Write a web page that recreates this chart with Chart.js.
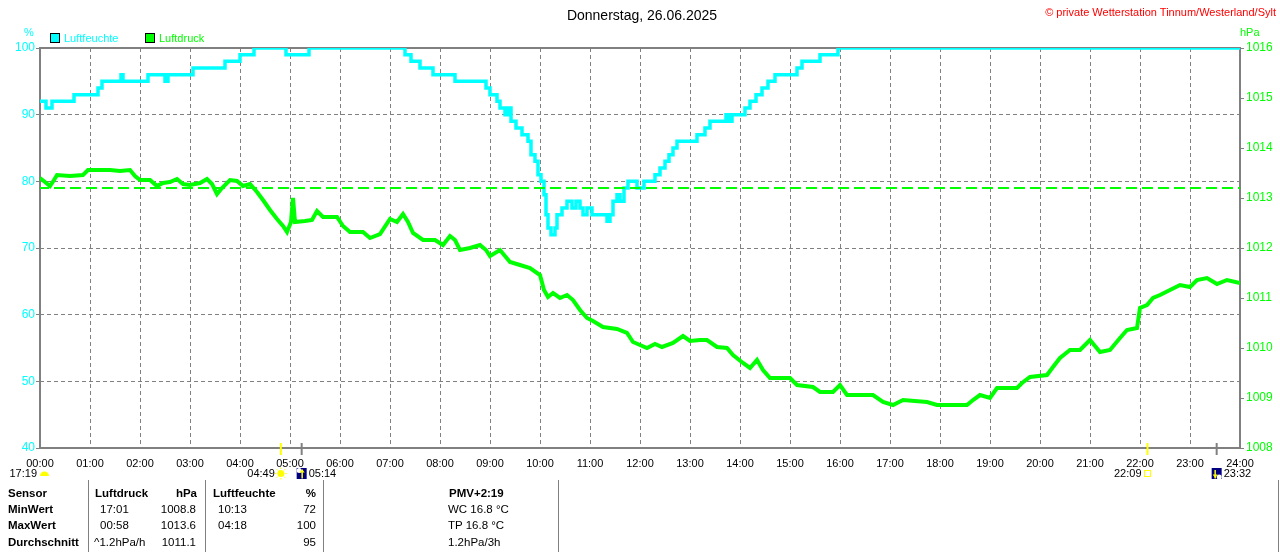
<!DOCTYPE html>
<html lang="de">
<head>
  <meta charset="UTF-8" />
  <title>Luftfeuchte / Luftdruck - Donnerstag, 26.06.2025</title>
  <script src="https://cdn.jsdelivr.net/npm/chart.js"></script>
  <style>
    body {
      margin: 0;
      background: #fff;
      font-family: "Liberation Sans", Arial, sans-serif;
    }
    #wrap {
      position: relative;
      width: 1280px;
      height: 552px;
      overflow: hidden;
    }
    #wrap canvas {
      position: absolute;
      left: 0;
      top: 0;
    }
    .t {
      position: absolute;
      white-space: nowrap;
      font-size: 11.5px;
      line-height: 14px;
      transform: translateY(-50%);
    }
    .r { transform: translate(-100%, -50%); }
    .c { transform: translate(-50%, -50%); }
    .b { font-weight: bold; }
    .sep {
      position: absolute;
      top: 480px;
      width: 1px;
      height: 72px;
      background: #808080;
    }
    .box {
      position: absolute;
      top: 33px;
      width: 8px;
      height: 8px;
      border: 1px solid #000;
    }
  </style>
</head>
<body>
<div id="wrap">
  <canvas id="chart" width="1280" height="552"></canvas>

  <!-- Kopfzeile -->
  <div class="t c" style="left:642px; top:15px; font-size:14px;">Donnerstag, 26.06.2025</div>
  <div class="t r" style="left:1276px; top:12px; font-size:11px; color:#ff0000;">&copy; private Wetterstation Tinnum/Westerland/Sylt</div>

  <!-- Legende und Einheiten -->
  <div class="t" style="left:24px; top:32px; font-size:11px; color:#00ffff;">%</div>
  <div class="t" style="left:1240px; top:32px; font-size:11px; color:#00ff00;">hPa</div>
  <div class="box" style="left:50px; background:#00ffff;"></div>
  <div class="t" style="left:64px; top:38px; font-size:11px; color:#00ffff;">Luftfeuchte</div>
  <div class="box" style="left:145px; background:#00ff00;"></div>
  <div class="t" style="left:159px; top:38px; font-size:11px; color:#00ff00;">Luftdruck</div>

  <!-- Tabelle -->
  <div class="sep" style="left:88px;"></div>
  <div class="sep" style="left:205px;"></div>
  <div class="sep" style="left:323px;"></div>
  <div class="sep" style="left:558px;"></div>
  <div class="sep" style="left:1278px;"></div>

  <div class="t b" style="left:8px; top:493px;">Sensor</div>
  <div class="t b" style="left:8px; top:509px;">MinWert</div>
  <div class="t b" style="left:8px; top:525px;">MaxWert</div>
  <div class="t b" style="left:8px; top:542px;">Durchschnitt</div>

  <div class="t b" style="left:95px; top:493px;">Luftdruck</div>
  <div class="t b r" style="left:197px; top:493px;">hPa</div>
  <div class="t" style="left:100px; top:509px;">17:01</div>
  <div class="t r" style="left:196px; top:509px;">1008.8</div>
  <div class="t" style="left:100px; top:525px;">00:58</div>
  <div class="t r" style="left:196px; top:525px;">1013.6</div>
  <div class="t" style="left:94px; top:542px;">^1.2hPa/h</div>
  <div class="t r" style="left:196px; top:542px;">1011.1</div>

  <div class="t b" style="left:213px; top:493px;">Luftfeuchte</div>
  <div class="t b r" style="left:316px; top:493px;">%</div>
  <div class="t" style="left:218px; top:509px;">10:13</div>
  <div class="t r" style="left:316px; top:509px;">72</div>
  <div class="t" style="left:218px; top:525px;">04:18</div>
  <div class="t r" style="left:316px; top:525px;">100</div>
  <div class="t r" style="left:316px; top:542px;">95</div>

  <div class="t b" style="left:449px; top:493px;">PMV+2:19</div>
  <div class="t" style="left:448px; top:509px;">WC 16.8 °C</div>
  <div class="t" style="left:448px; top:525px;">TP 16.8 °C</div>
  <div class="t" style="left:448px; top:542px;">1.2hPa/3h</div>
</div>

<script>
  // ---------------------
  // Daten (Zeit in Stunden seit 00:00)
  // ---------------------
  const hourLabels = ['00:00', '01:00', '02:00', '03:00', '04:00', '05:00', '06:00', '07:00',
    '08:00', '09:00', '10:00', '11:00', '12:00', '13:00', '14:00', '15:00', '16:00',
    '17:00', '18:00', '19:00', '20:00', '21:00', '22:00', '23:00', '24:00'];

  // Luftfeuchte in % (Wert gilt ab dem Zeitpunkt)
  const humTimes = [0, 0.12, 0.24, 0.68, 1.16, 1.24, 1.62, 1.66, 2.16, 2.5,
    2.56, 3.06, 3.7, 4.0, 4.28, 4.92, 5.38, 7.3, 7.42, 7.6,
    7.86, 8.3, 8.92, 9.0, 9.14, 9.2, 9.3, 9.36, 9.42, 9.52,
    9.64, 9.76, 9.82, 9.9, 9.96, 10.02, 10.08, 10.12, 10.16, 10.22,
    10.3, 10.34, 10.44, 10.54, 10.64, 10.72, 10.8, 10.86, 10.94, 11.04,
    11.34, 11.4, 11.46, 11.54, 11.6, 11.68, 11.76, 11.94, 12.08, 12.3,
    12.4, 12.5, 12.58, 12.66, 12.74, 13.14, 13.3, 13.4, 13.72, 13.78,
    13.84, 14.1, 14.2, 14.32, 14.44, 14.56, 14.7, 15.14, 15.24, 15.6,
    15.96, 24];
  const humValues = [92, 91, 92, 93, 94, 95, 96, 95, 96, 95,
    96, 97, 98, 99, 100, 99, 100, 99, 98, 97,
    96, 95, 94, 93, 92, 91, 90, 91, 89, 88,
    87, 86, 84, 83, 81, 80, 78, 75, 73, 72,
    73, 75, 76, 77, 76, 77, 76, 75, 76, 75,
    74, 75, 77, 78, 77, 79, 80, 79, 80, 81,
    82, 83, 84, 85, 86, 87, 88, 89, 90, 89,
    90, 91, 92, 93, 94, 95, 96, 97, 98, 99,
    100, 100];

  // Luftdruck in hPa
  const presTimes = [0, 0.1, 0.2, 0.28, 0.34, 0.6, 0.86, 0.96, 1.4, 1.6,
    1.8, 1.9, 2.0, 2.2, 2.34, 2.46, 2.6, 2.74, 2.86, 3.0,
    3.2, 3.34, 3.44, 3.54, 3.64, 3.8, 3.94, 4.06, 4.2, 4.34,
    4.46, 4.6, 4.74, 4.86, 4.94, 5.02, 5.06, 5.1, 5.3, 5.44,
    5.54, 5.66, 5.94, 6.06, 6.2, 6.46, 6.6, 6.8, 7.0, 7.14,
    7.26, 7.36, 7.46, 7.66, 7.9, 8.06, 8.2, 8.3, 8.4, 8.6,
    8.8, 8.92, 9.0, 9.2, 9.4, 9.6, 9.8, 10.0, 10.08, 10.16,
    10.26, 10.4, 10.54, 10.66, 10.8, 10.94, 11.06, 11.26, 11.54, 11.74,
    11.86, 12.0, 12.14, 12.3, 12.44, 12.66, 12.86, 13.0, 13.2, 13.34,
    13.54, 13.74, 13.86, 14.06, 14.2, 14.34, 14.46, 14.6, 15.0, 15.14,
    15.46, 15.6, 15.86, 16.0, 16.14, 16.66, 16.86, 17.06, 17.26, 17.74,
    17.94, 18.54, 18.66, 18.8, 19.0, 19.14, 19.54, 19.64, 19.8, 20.14,
    20.26, 20.4, 20.6, 20.8, 21.0, 21.2, 21.4, 21.6, 21.74, 21.94,
    22.0, 22.14, 22.26, 22.4, 22.6, 22.8, 23.0, 23.14, 23.34, 23.54,
    23.74, 24.0];
  const presValues = [1013.40, 1013.32, 1013.24, 1013.36, 1013.46, 1013.44, 1013.46, 1013.56, 1013.56, 1013.54,
    1013.56, 1013.44, 1013.36, 1013.36, 1013.24, 1013.30, 1013.32, 1013.38, 1013.28, 1013.26,
    1013.30, 1013.38, 1013.28, 1013.08, 1013.20, 1013.36, 1013.34, 1013.24, 1013.28, 1013.12,
    1012.96, 1012.76, 1012.58, 1012.44, 1012.32, 1012.52, 1013.00, 1012.52, 1012.54, 1012.56,
    1012.74, 1012.62, 1012.62, 1012.44, 1012.32, 1012.32, 1012.20, 1012.28, 1012.58, 1012.52,
    1012.68, 1012.52, 1012.30, 1012.16, 1012.16, 1012.06, 1012.24, 1012.16, 1011.96, 1012.00,
    1012.06, 1011.96, 1011.84, 1011.96, 1011.72, 1011.66, 1011.60, 1011.46, 1011.16, 1011.02,
    1011.10, 1011.00, 1011.06, 1010.96, 1010.76, 1010.60, 1010.54, 1010.42, 1010.38, 1010.30,
    1010.12, 1010.06, 1010.00, 1010.08, 1010.02, 1010.10, 1010.24, 1010.14, 1010.16, 1010.16,
    1010.02, 1010.00, 1009.86, 1009.70, 1009.60, 1009.76, 1009.56, 1009.40, 1009.40, 1009.26,
    1009.22, 1009.12, 1009.12, 1009.26, 1009.06, 1009.06, 1008.92, 1008.86, 1008.96, 1008.92,
    1008.86, 1008.86, 1008.96, 1009.06, 1009.00, 1009.20, 1009.20, 1009.30, 1009.42, 1009.46,
    1009.62, 1009.80, 1009.96, 1009.96, 1010.16, 1009.92, 1009.96, 1010.20, 1010.36, 1010.40,
    1010.80, 1010.86, 1011.00, 1011.06, 1011.16, 1011.26, 1011.22, 1011.36, 1011.40, 1011.28,
    1011.36, 1011.30];

  // gestrichelte Bezugslinie Luftdruck
  const presRef = 1013.2;

  // Sonne / Mond unter der Zeitachse
  const sunTimes = [4 + 49 / 60, 22 + 9 / 60];
  const sunLabels = ['04:49', '22:09'];
  const moonTimes = [5 + 14 / 60, 23 + 32 / 60];
  const moonLabels = ['05:14', '23:32'];
  const startLabel = '17:19';

  const CYAN = '#00ffff';
  const GREEN = '#00ff00';
  const GRID = '#808080';
  const FONT = '"Liberation Sans", Arial, sans-serif';

  function sunIcon(ctx, x, y, filled) {
    ctx.save();
    ctx.fillStyle = '#ffff00';
    ctx.strokeStyle = '#ffff00';
    ctx.lineWidth = 1;
    if (filled) {
      ctx.beginPath();
      ctx.arc(x, y, 3.5, 0, Math.PI * 2);
      ctx.fill();
      for (let k = 0; k < 8; k++) {
        const a = k * Math.PI / 4;
        ctx.beginPath();
        ctx.moveTo(x + Math.cos(a) * 4.5, y + Math.sin(a) * 4.5);
        ctx.lineTo(x + Math.cos(a) * 6, y + Math.sin(a) * 6);
        ctx.stroke();
      }
    } else {
      ctx.strokeRect(x - 3, y - 3, 6, 6);
    }
    ctx.restore();
  }

  function moonIcon(ctx, x, y, up) {
    ctx.save();
    ctx.fillStyle = '#000080';
    ctx.fillRect(x - 5, y - 5.5, 10, 11);
    ctx.fillStyle = '#ffffff';
    ctx.beginPath();
    if (up) ctx.arc(x - 2.5, y - 3, 2.5, 0, Math.PI * 2);
    else ctx.arc(x + 2.5, y + 3.5, 2.5, 0, Math.PI * 2);
    ctx.fill();
    ctx.strokeStyle = '#ffff00';
    ctx.fillStyle = '#ffff00';
    ctx.lineWidth = 1.5;
    const ax = up ? x + 0.5 : x - 1.5;
    ctx.beginPath();
    ctx.moveTo(ax, y - 3.5);
    ctx.lineTo(ax, y + 5);
    ctx.stroke();
    ctx.beginPath();
    if (up) {
      ctx.moveTo(ax - 2.5, y - 1);
      ctx.lineTo(ax, y - 4.5);
      ctx.lineTo(ax + 2.5, y - 1);
    } else {
      ctx.moveTo(ax - 2.5, y + 1);
      ctx.lineTo(ax, y + 4.5);
      ctx.lineTo(ax + 2.5, y + 1);
    }
    ctx.fill();
    ctx.restore();
  }

  const decor = {
    id: 'decor',
    beforeDatasetsDraw(chart) {
      const { ctx, chartArea: a } = chart;
      ctx.save();
      ctx.strokeStyle = GRID;
      ctx.lineWidth = 2;
      ctx.strokeRect(a.left, a.top, a.right - a.left, a.bottom - a.top);
      ctx.restore();
    },
    afterDraw(chart) {
      const { ctx, chartArea: a } = chart;
      const xs = chart.scales.x;
      const ty = a.bottom + 25.5;
      ctx.save();
      ctx.font = '11px ' + FONT;
      ctx.textBaseline = 'middle';
      ctx.fillStyle = '#000';

      // Startwert links
      ctx.textAlign = 'right';
      ctx.fillText(startLabel, xs.getPixelForValue(0) - 3, ty);
      ctx.save();
      ctx.fillStyle = '#ffff00';
      ctx.beginPath();
      ctx.ellipse(xs.getPixelForValue(0) + 4.5, ty + 2.5, 4.5, 4.5, 0, Math.PI, 0);
      ctx.fill();
      ctx.restore();

      sunTimes.forEach((t, i) => {
        const x = xs.getPixelForValue(t);
        ctx.save();
        ctx.strokeStyle = '#ffff00';
        ctx.lineWidth = 2;
        ctx.beginPath();
        ctx.moveTo(x, a.bottom - 5);
        ctx.lineTo(x, a.bottom + 7);
        ctx.stroke();
        ctx.restore();
        ctx.textAlign = 'right';
        ctx.fillText(sunLabels[i], x - 6, ty);
        sunIcon(ctx, x, ty, i === 0);
      });

      moonTimes.forEach((t, i) => {
        const x = xs.getPixelForValue(t);
        ctx.save();
        ctx.strokeStyle = GRID;
        ctx.lineWidth = 2;
        ctx.beginPath();
        ctx.moveTo(x, a.bottom - 5);
        ctx.lineTo(x, a.bottom + 7);
        ctx.stroke();
        ctx.restore();
        moonIcon(ctx, x, ty, i === 0);
        ctx.textAlign = 'left';
        ctx.fillText(moonLabels[i], x + 7, ty);
      });
      ctx.restore();
    }
  };

  const ctx = document.getElementById('chart').getContext('2d');

  new Chart(ctx, {
    type: 'line',
    data: {
      datasets: [{
        label: 'Luftdruck',
        yAxisID: 'yP',
        data: presTimes.map((t, i) => ({ x: t, y: presValues[i] })),
        borderColor: GREEN,
        borderWidth: 4,
        pointRadius: 0,
        tension: 0,
        order: 0
      }, {
        label: 'Luftdruck Bezug',
        yAxisID: 'yP',
        data: [{ x: 0, y: presRef }, { x: 24, y: presRef }],
        borderColor: GREEN,
        borderWidth: 2,
        borderDash: [11, 5],
        borderDashOffset: 2,
        pointRadius: 0,
        order: 1
      }, {
        label: 'Luftfeuchte',
        yAxisID: 'yH',
        data: humTimes.map((t, i) => ({ x: t, y: humValues[i] })),
        borderColor: CYAN,
        borderWidth: 3.5,
        pointRadius: 0,
        stepped: true,
        order: 2
      }]
    },
    options: {
      responsive: false,
      animation: false,
      devicePixelRatio: 1,
      layout: { padding: { top: 48, left: 0, right: 0, bottom: 0 } },
      plugins: {
        legend: { display: false },
        tooltip: { enabled: false }
      },
      scales: {
        x: {
          type: 'linear',
          min: 0,
          max: 24,
          afterFit: s => { s.height = 104; },
          ticks: {
            stepSize: 1,
            autoSkip: false,
            maxRotation: 0,
            color: '#000',
            padding: 9,
            font: { family: FONT, size: 11 },
            callback: v => hourLabels[v]
          },
          grid: { color: GRID, lineWidth: 1, drawTicks: false },
          border: { display: false, dash: [4, 3] }
        },
        yH: {
          position: 'left',
          min: 40,
          max: 100,
          afterFit: s => { s.width = 40; },
          ticks: {
            stepSize: 10,
            color: CYAN,
            padding: 1,
            font: { family: FONT, size: 12 },
            callback: v => String(v)
          },
          grid: { color: GRID, lineWidth: 1, drawTicks: true, tickLength: 4 },
          border: { display: false, dash: [4, 3] }
        },
        yP: {
          position: 'right',
          min: 1008,
          max: 1016,
          afterFit: s => { s.width = 40; },
          ticks: {
            stepSize: 1,
            color: GREEN,
            padding: 2,
            font: { family: FONT, size: 12 },
            callback: v => String(v)
          },
          grid: { drawOnChartArea: false, drawTicks: true, tickLength: 4, tickColor: GRID },
          border: { display: false }
        }
      }
    },
    plugins: [decor]
  });
</script>
</body>
</html>
